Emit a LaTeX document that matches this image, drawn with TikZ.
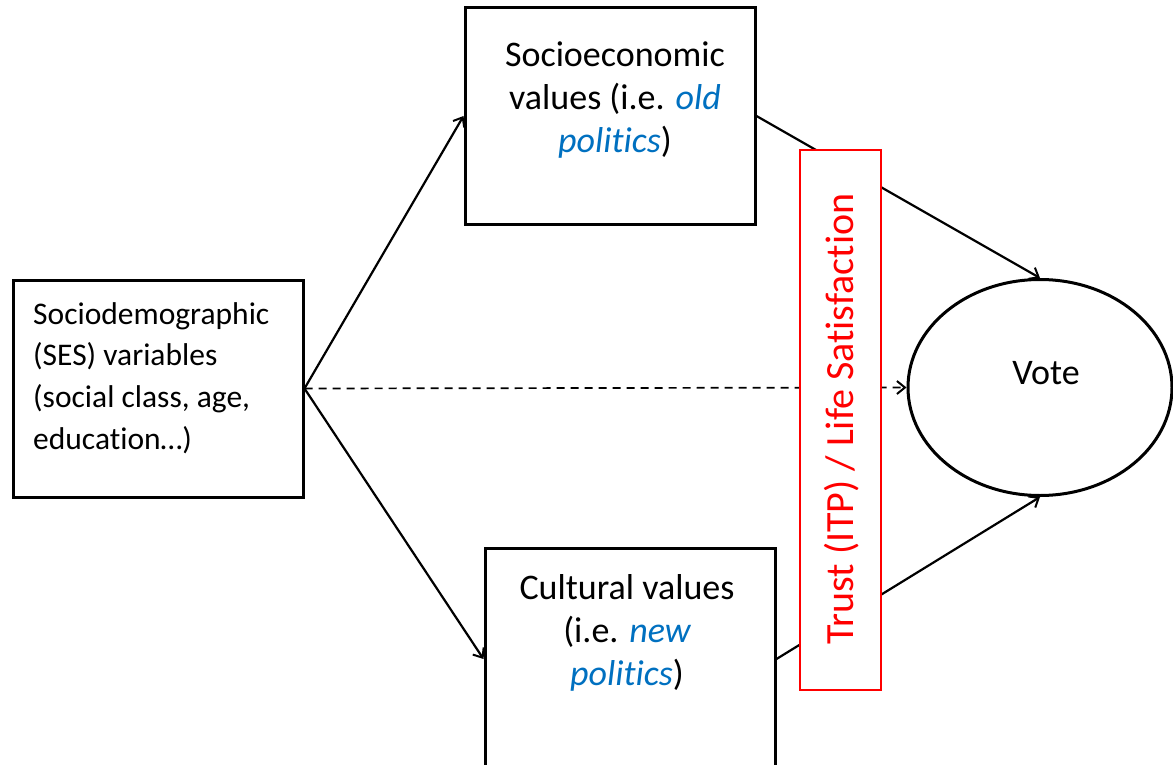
\documentclass[tikz,border=0pt]{standalone}
\usepackage{fontspec}
\setmainfont{Carlito}[Ligatures=NoCommon]
\usetikzlibrary{arrows.meta,shapes.geometric}
\definecolor{ofblue}{RGB}{0,112,192}
\definecolor{ofred}{RGB}{255,0,0}
\tikzset{
  box/.style={draw, line width=3pt, minimum width=290pt, minimum height=217pt, inner sep=0pt},
  lbl/.style={inner sep=0pt, font=\fontsize{36}{43}\selectfont, align=center},
  conn/.style={line width=2.2pt, -{Straight Barb[length=8pt,width=13pt,line width=2pt]}},
  dconn/.style={conn, dash pattern=on 8pt off 6pt, line width=1.7pt},
  redbox/.style={draw=ofred, fill=white, line width=1.6pt, minimum width=81pt, minimum height=540pt, inner sep=0pt},
}
\begin{document}
\begin{tikzpicture}[x=1pt,y=-1pt]
\useasboundingbox (0,0) rectangle (1173,765);
\clip (0,0) rectangle (1173,765);
% boxes
\node[box] (ses) at (158,388.5) {};
\node[box] (econ) at (610,116) {};
\node[box, minimum height=222pt] (cult) at (630,659) {};
\node[draw, ellipse, line width=3pt, minimum width=264pt, minimum height=216pt, inner sep=0pt] (vote) at (1040,387.5) {};
% texts
\node[inner sep=0pt, anchor=north west, align=left, font=\fontsize{31.5}{41.7}\selectfont] (sestext) at (33,302) {Sociodemographic\\(SES) variables\\(social class, age,\\education\ldots)};
\node[lbl] (econtext) at (615,100) {Socioeconomic\\values (i.e. \textcolor{ofblue}{\itshape old}\\\textcolor{ofblue}{\itshape politics})};
\node[lbl] (culttext) at (627,633) {Cultural values\\(i.e. \textcolor{ofblue}{\itshape new}\\\textcolor{ofblue}{\itshape politics})};
\node[lbl] (votetext) at (1046,373) {Vote};
% connectors
\draw[conn] (ses.east) -- (econ.west);
\draw[conn] (ses.east) -- (cult.west);
\draw[dconn] (ses.east) -- (vote.west);
\draw[conn] (econ.east) -- (vote.north);
\draw[conn] (cult.east) -- (vote.south);
% red box
\node[redbox] (trust) at (840.5,420) {};
\node[inner sep=0pt, rotate=90, text=ofred, font=\fontsize{40}{48}\selectfont] (trusttext) at (842,419) {Trust (ITP) / Life Satisfaction};
\end{tikzpicture}
\end{document}
